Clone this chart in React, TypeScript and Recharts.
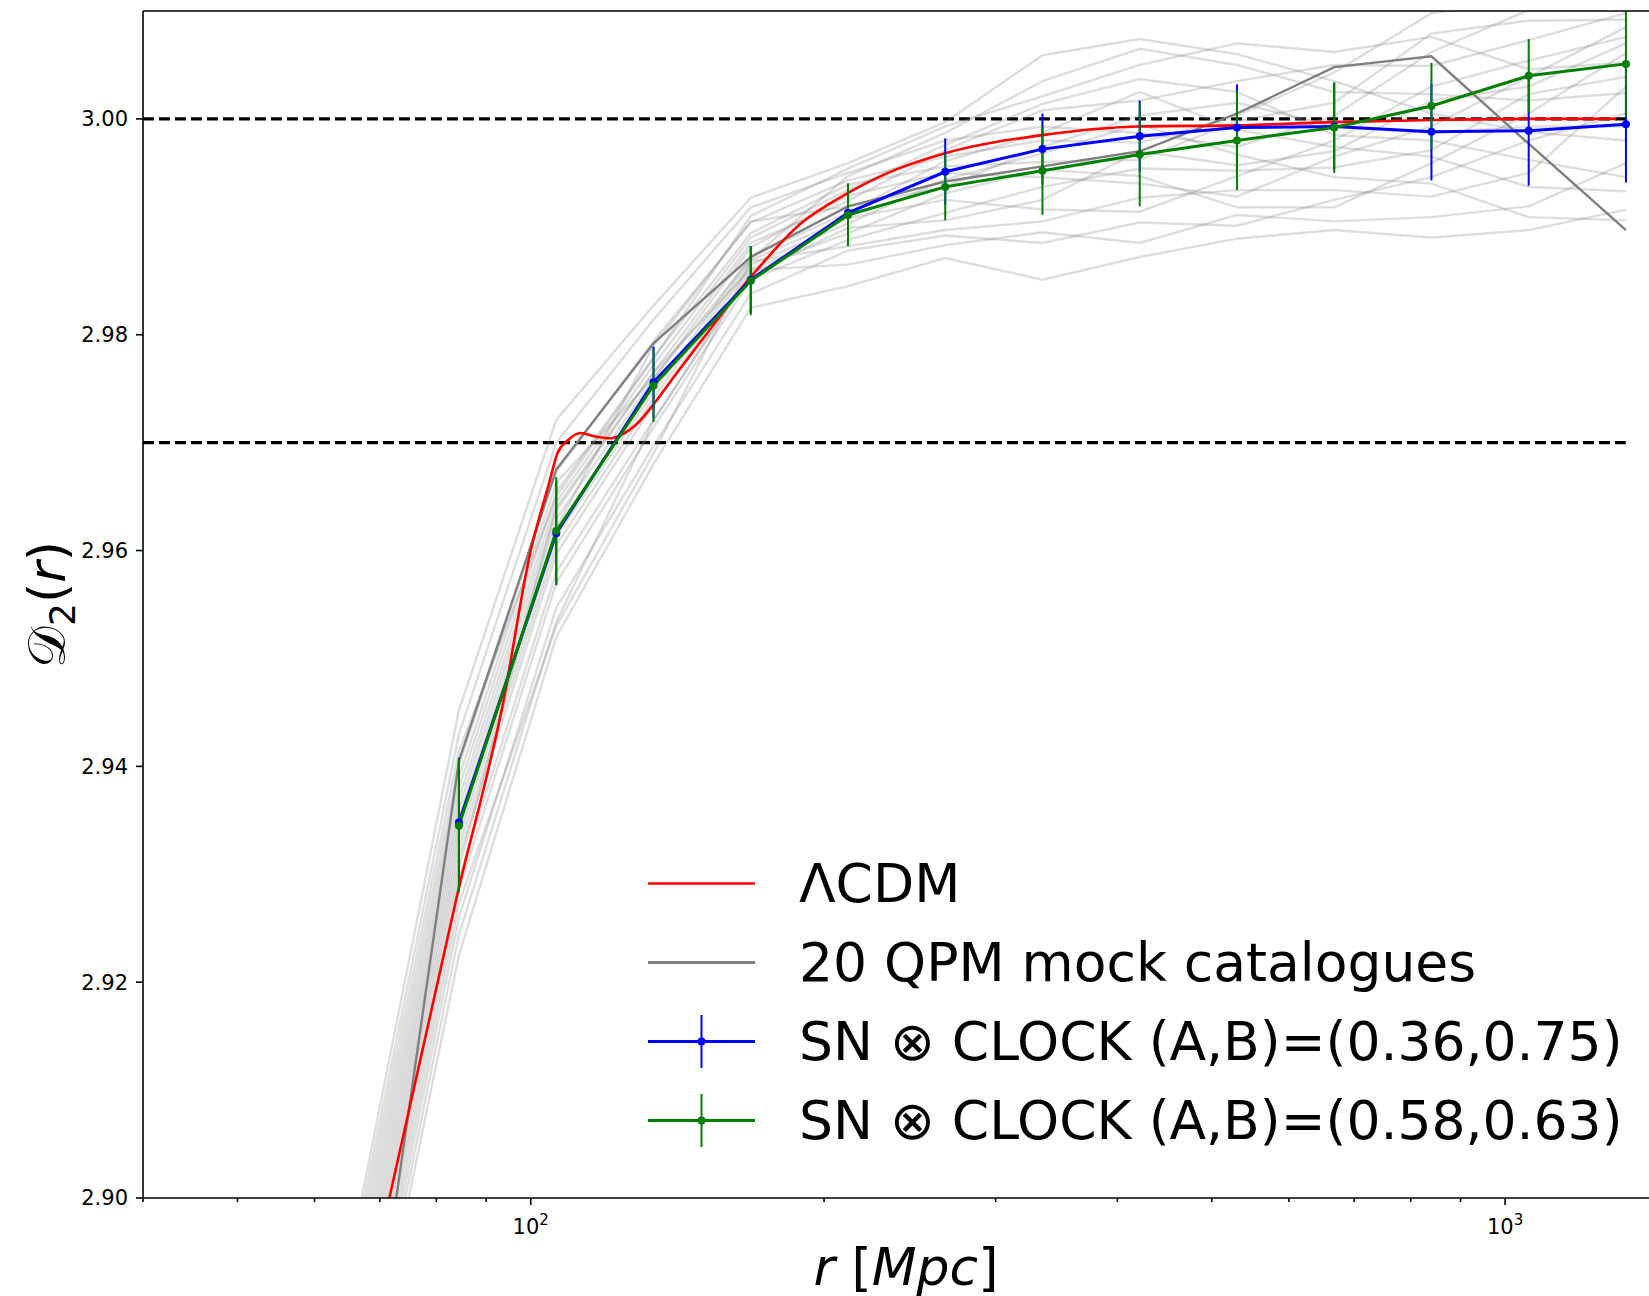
import { LineChart, Line, XAxis, YAxis, ErrorBar, ReferenceLine, Legend, Label } from "recharts";

// radial bins in Mpc (log spaced)
const rBins = [84.39, 106.22, 133.66, 168.19, 211.64, 266.31, 335.11, 421.7, 530.64, 667.73, 840.23, 1057.3, 1330.5];
// mocks have one extra bin below the plotted range
const rMock = [67.07, ...rBins];

// 20 QPM mocks (light), values at rMock
const mock01 = [2.9, 2.9452, 2.9721, 2.9827, 2.9927, 2.9959, 2.9997, 3.0059, 3.0074, 3.006, 3.0035, 3.0005, 2.9988, 2.998];
const mock02 = [2.8988, 2.943, 2.97, 2.9814, 2.9918, 2.995, 2.998, 2.9993, 2.9987, 2.9974, 3.0003, 3.0062, 3.0101, 3.0115];
const mock03 = [2.8977, 2.9414, 2.965, 2.9778, 2.991, 2.9954, 2.9993, 3.0021, 3.005, 3.007, 3.0062, 3.0076, 3.0046, 3.0052];
const mock04 = [2.8966, 2.9401, 2.9673, 2.9794, 2.9904, 2.9943, 2.9965, 2.998, 2.9978, 3.0003, 3.0043, 3.0098, 3.011, 3.0128];
const mock05 = [2.8955, 2.939, 2.9663, 2.976, 2.987, 2.9947, 2.9987, 3.0035, 3.0065, 3.005, 3.0025, 3.0023, 3.0017, 3.0024];
const mock06 = [2.8944, 2.938, 2.9654, 2.9779, 2.9894, 2.9939, 2.9956, 2.996, 2.9962, 2.9998, 3.0015, 3.0079, 3.0091, 3.0092];
const mock07 = [2.8933, 2.937, 2.9645, 2.9772, 2.989, 2.9934, 2.9976, 3.0014, 3.0037, 3.0025, 2.9985, 2.998, 2.9962, 2.9946];
const mock08 = [2.8922, 2.9361, 2.9637, 2.9765, 2.9885, 2.9924, 2.9971, 3.0008, 3.0017, 3.0035, 3.005, 3.0049, 3.0073, 3.0098];
const mock09 = [2.8911, 2.9352, 2.9629, 2.9759, 2.9881, 2.9929, 2.995, 2.9946, 2.994, 2.9928, 2.9965, 2.9993, 3.0039, 3.0085];
const mock10 = [2.89, 2.9343, 2.9621, 2.979, 2.9905, 2.9919, 2.9937, 2.9974, 3.0003, 3.0015, 2.9993, 2.9987, 2.9993, 2.9993];
const mock11 = [2.8889, 2.9334, 2.9613, 2.9747, 2.9873, 2.9913, 2.9961, 2.9987, 3.0025, 2.999, 2.9974, 2.9965, 2.9937, 2.9933];
const mock12 = [2.8878, 2.9325, 2.9605, 2.9741, 2.9869, 2.9908, 2.9925, 2.9916, 2.9914, 2.9947, 2.998, 3.003, 3.0054, 3.0076];
const mock13 = [2.8867, 2.9316, 2.9597, 2.9735, 2.9865, 2.9903, 2.9944, 2.9968, 2.9995, 2.9967, 2.9946, 2.994, 2.9909, 2.9906];
const mock14 = [2.8856, 2.9306, 2.964, 2.9765, 2.9861, 2.9894, 2.9931, 2.9953, 2.9947, 2.9918, 2.9918, 2.9959, 3.0005, 3.0061];
const mock15 = [2.8845, 2.9296, 2.958, 2.9721, 2.9856, 2.9899, 2.9906, 2.9925, 2.997, 2.9957, 2.997, 3.0017, 3.003, 3.007];
const mock16 = [2.8834, 2.9285, 2.957, 2.9714, 2.9851, 2.9888, 2.9913, 2.9937, 2.9954, 2.9952, 2.9955, 2.9971, 3.0023, 3.0039];
const mock17 = [2.8823, 2.9273, 2.953, 2.969, 2.9868, 2.9882, 2.9897, 2.9905, 2.9927, 2.9934, 2.9934, 2.9928, 2.995, 3.003];
const mock18 = [2.8812, 2.926, 2.9547, 2.9697, 2.9838, 2.9878, 2.9892, 2.9885, 2.9904, 2.9901, 2.9925, 2.9946, 2.998, 3.0005];
const mock19 = [2.8801, 2.9244, 2.9534, 2.972, 2.986, 2.9865, 2.9883, 2.9895, 2.9885, 2.9911, 2.9905, 2.9909, 2.9919, 2.9959];
const mock20 = [2.879, 2.9225, 2.952, 2.968, 2.9825, 2.9845, 2.9871, 2.9851, 2.9872, 2.9889, 2.9897, 2.989, 2.9897, 2.9916];
const mocks = [mock01, mock02, mock03, mock04, mock05, mock06, mock07, mock08, mock09, mock10,
  mock11, mock12, mock13, mock14, mock15, mock16, mock17, mock18, mock19, mock20];

// the one mock drawn solid (legend entry)
const qpmShown = [2.8777, 2.9405, 2.9675, 2.9792, 2.9872, 2.9919, 2.9942, 2.9956, 2.997, 3.0005, 3.0048, 3.0058, 2.9977, 2.9897];

// LCDM prediction
const lcdmR = [67.07, 71.6, 84.2, 93.5, 100, 104.4, 106.5, 109.1, 112.5, 116.1, 120.8, 123.7, 128.7, 133.8, 140.3,
  150.7, 168.4, 189.3, 211.3, 237, 265.7, 335, 421, 530.7, 668, 841, 1059, 1300];
const lcdmD = [2.888, 2.9, 2.9284, 2.9455, 2.96, 2.9662, 2.969, 2.9702, 2.9709, 2.9706, 2.9704, 2.9707, 2.9718, 2.9736, 2.9761,
  2.9798, 2.9854, 2.9903, 2.9931, 2.9953, 2.9968, 2.9985, 2.9993, 2.9994, 2.9997, 2.9999, 3.0, 3.0];

// SN x CLOCK reconstructions
const clockA = [2.9348, 2.9616, 2.9756, 2.9851, 2.9913, 2.9951, 2.9972, 2.9984, 2.9992, 2.9993, 2.9988, 2.9989, 2.9995];
const clockAErr = [0.006, 0.0048, 0.0033, 0.0031, 0.0027, 0.0031, 0.0033, 0.0033, 0.004, 0.004, 0.0045, 0.0051, 0.0054];
const clockB = [2.9345, 2.9618, 2.9753, 2.985, 2.9911, 2.9937, 2.9952, 2.9967, 2.998, 2.9992, 3.0012, 3.004, 3.0051];
const clockBErr = [0.0062, 0.005, 0.0034, 0.0032, 0.0029, 0.0031, 0.0041, 0.0048, 0.0046, 0.0042, 0.004, 0.0034, 0.0049];

// horizontal dashed guides
const refLevels = [3.0, 2.97];
const refSpan = [40, 1330];

const yTicks = [2.9, 2.92, 2.94, 2.96, 2.98, 3.0];
const xTicks = [40, 50, 60, 70, 80, 90, 100, 200, 300, 400, 500, 600, 700, 800, 900, 1000];
const xMajor = [100, 1000];

const legendLabels = ["ΛCDM", "20 QPM mock catalogues", "SN ⊗ CLOCK (A,B)=(0.36,0.75)", "SN ⊗ CLOCK (A,B)=(0.58,0.63)"];

const pts = (xs: number[], ys: number[]) => xs.map((x, i) => ({ x, y: ys[i] }));
const withErr = (ys: number[], es: number[]) => rBins.map((x, i) => ({ x, y: ys[i], err: es[i] }));

const FONT = "DejaVu Sans";

function renderXTick(props: any) {
  const { x, y, payload } = props;
  const major = xMajor.includes(payload.value);
  return (
    <g>
      <line x1={x} x2={x} y1={y} y2={y + (major ? 7 : 4)} stroke="#000" strokeWidth={1.6} />
      {major && (
        <text x={x} y={y + 36} textAnchor="middle" fontSize={21} fontFamily={FONT} fill="#000">
          10<tspan dy={-9} fontSize={15}>{Math.round(Math.log10(payload.value))}</tspan>
        </text>
      )}
    </g>
  );
}

function renderXLabel(props: any) {
  const vb = props.viewBox;
  return (
    <text x={vb.x + 763} y={vb.y + 87} textAnchor="middle" fontSize={52} fontFamily={FONT} fill="#000">
      <tspan fontStyle="italic">r</tspan>
      {" ["}
      <tspan fontStyle="italic">Mpc</tspan>
      {"]"}
    </text>
  );
}

function renderYLabel(props: any) {
  const vb = props.viewBox;
  const cx = vb.x + 65;
  const cy = vb.y + vb.height / 2;
  return (
    <text x={cx} y={cy} transform={`rotate(-90 ${cx} ${cy})`} textAnchor="middle" fontSize={52} fontFamily={FONT} fill="#000">
      𝒟<tspan dy={10} fontSize={36}>2</tspan>
      <tspan dy={-10}>(</tspan>
      <tspan fontStyle="italic">r</tspan>)
    </text>
  );
}

function renderLegend() {
  const handles = [
    { color: "#ff0000", w: 2.4, bar: false },
    { color: "#808080", w: 3, bar: false },
    { color: "#0000ff", w: 3, bar: true },
    { color: "#008000", w: 3, bar: true },
  ];
  return (
    <div style={{ fontFamily: FONT, fontSize: 53.5, color: "#000" }}>
      {legendLabels.map((label, i) => (
        <div key={label} style={{ display: "flex", alignItems: "center", height: 79 }}>
          <svg width={107} height={79} style={{ display: "block" }}>
            <line x1={0} x2={107} y1={39.5} y2={39.5} stroke={handles[i].color} strokeWidth={handles[i].w} />
            {handles[i].bar && (
              <>
                <line x1={53.5} x2={53.5} y1={13} y2={66} stroke={handles[i].color} strokeWidth={2} />
                <circle cx={53.5} cy={39.5} r={4} fill={handles[i].color} />
              </>
            )}
          </svg>
          <span style={{ marginLeft: 44, whiteSpace: "nowrap", lineHeight: "79px" }}>{label}</span>
        </div>
      ))}
    </div>
  );
}

export default function App() {
  return (
    <div style={{ position: "absolute", left: 0, top: 0, width: 1649, height: 1296, background: "#fff", overflow: "hidden" }}>
      <LineChart width={1649} height={1296} margin={{ top: 11, right: 0, bottom: 0, left: 0 }}>
        <XAxis
          dataKey="x"
          type="number"
          scale="log"
          domain={[40, 1405]}
          allowDataOverflow
          ticks={xTicks}
          interval={0}
          height={98}
          tickLine={false}
          tickSize={0}
          tickMargin={0}
          tick={renderXTick}
          axisLine={{ stroke: "#000", strokeWidth: 1.6 }}
        >
          <Label content={renderXLabel} />
        </XAxis>
        <YAxis
          type="number"
          domain={[2.9, 3.01]}
          allowDataOverflow
          ticks={yTicks}
          interval={0}
          width={143}
          tickSize={7}
          tickMargin={8}
          tickFormatter={(v: number) => v.toFixed(2)}
          tick={{ fontSize: 21, fill: "#000", fontFamily: FONT }}
          stroke="#000"
          strokeWidth={1.6}
        >
          <Label content={renderYLabel} />
        </YAxis>

        {refLevels.map((lvl) => (
          <Line
            key={"ref" + lvl}
            data={refSpan.map((x) => ({ x, y: lvl }))}
            dataKey="y"
            stroke="#000"
            strokeWidth={3.2}
            strokeDasharray="11 5"
            dot={false}
            activeDot={false}
            isAnimationActive={false}
          />
        ))}

        {mocks.map((m, i) => (
          <Line
            key={"mock" + i}
            data={pts(rMock, m)}
            dataKey="y"
            type="linear"
            stroke="#808080"
            strokeOpacity={0.27}
            strokeWidth={2.4}
            dot={false}
            activeDot={false}
            isAnimationActive={false}
          />
        ))}
        <Line data={pts(rMock, qpmShown)} dataKey="y" type="linear" stroke="#808080" strokeWidth={2.4} dot={false} activeDot={false} isAnimationActive={false} />

        <Line data={pts(lcdmR, lcdmD)} dataKey="y" type="monotone" stroke="#ff0000" strokeWidth={2.6} dot={false} activeDot={false} isAnimationActive={false} />

        <Line
          data={withErr(clockA, clockAErr)}
          dataKey="y"
          type="linear"
          stroke="#0000ff"
          strokeWidth={3}
          dot={{ r: 4, fill: "#0000ff", stroke: "none" }}
          activeDot={false}
          isAnimationActive={false}
        >
          <ErrorBar dataKey="err" direction="y" width={0} stroke="#0000ff" strokeWidth={2} />
        </Line>
        <Line
          data={withErr(clockB, clockBErr)}
          dataKey="y"
          type="linear"
          stroke="#008000"
          strokeWidth={3}
          dot={{ r: 4, fill: "#008000", stroke: "none" }}
          activeDot={false}
          isAnimationActive={false}
        >
          <ErrorBar dataKey="err" direction="y" width={0} stroke="#008000" strokeWidth={2} />
        </Line>

        <ReferenceLine y={3.01} stroke="#000" strokeWidth={1.6} />
        <Legend content={renderLegend} verticalAlign="middle" align="center" wrapperStyle={{ left: 648, top: 844, width: 1000 }} />
      </LineChart>
    </div>
  );
}
